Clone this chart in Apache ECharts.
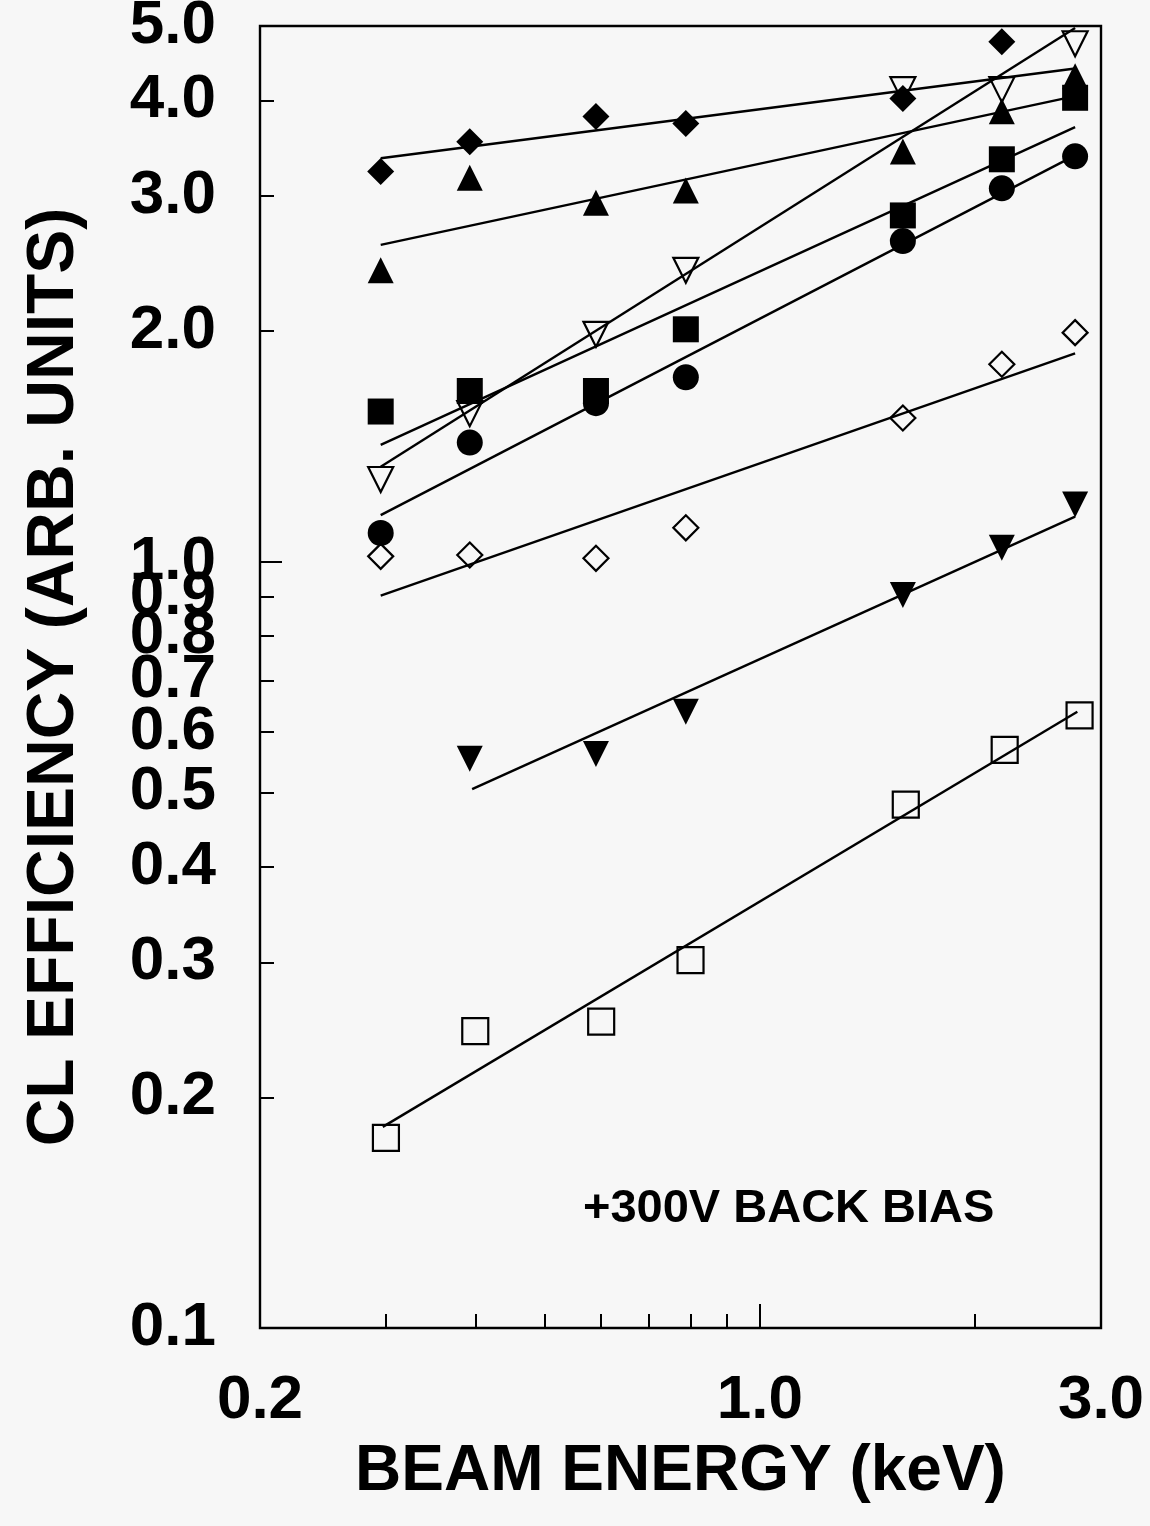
<!DOCTYPE html>
<html>
<head>
<meta charset="utf-8">
<script src="https://cdn.jsdelivr.net/npm/echarts@6/dist/echarts.min.js"></script>
<style>
html, body { margin: 0; padding: 0; background: #f7f7f7; }
#chart { width: 1150px; height: 1526px; }
</style>
</head>
<body>
<div id="chart"></div>
<script>
// beam energy (keV) of the measured points
var energy = [0.295, 0.393, 0.59, 0.788, 1.585, 2.18, 2.76];
var energyOpenSquare = [0.3, 0.4, 0.6, 0.8, 1.6, 2.2, 2.8];

// CL efficiency (arb. units), one list per marker type
var filledDiamond = [3.23, 3.53, 3.81, 3.73, 4.02, 4.77, null];
var filledTriangle = [2.40, 3.17, 2.94, 3.05, 3.43, 3.87, 4.30];
var openDownTriangle = [1.28, 1.56, 1.98, 2.40, 4.13, 4.13, 4.74];
var filledSquare = [1.57, 1.67, 1.67, 2.01, 2.83, 3.35, 4.03];
var filledCircle = [1.09, 1.43, 1.61, 1.74, 2.62, 3.07, 3.38];
var openDiamond = [1.016, 1.02, 1.01, 1.107, 1.54, 1.81, 1.99];
var filledDownTriangle = [null, 0.553, 0.561, 0.637, 0.905, 1.043, 1.187];
var openSquare = [0.177, 0.244, 0.251, 0.302, 0.482, 0.568, 0.630];

// fitted lines: end points [start, end]
var fitX = [0.295, 2.76];
var fitXDownTriangle = [0.396, 2.76];
var fitXOpenSquare = [0.297, 2.78];
var fitDiamond = [3.36, 4.40];
var fitTriangle = [2.59, 4.05];
var fitOpenDownTriangle = [1.33, 4.97];
var fitSquare = [1.42, 3.69];
var fitCircle = [1.15, 3.39];
var fitOpenDiamond = [0.903, 1.87];
var fitDownTriangle = [0.505, 1.145];
var fitOpenSquare = [0.183, 0.637];

// axis ticks and labels
var xTicks = [0.3, 0.4, 0.5, 0.6, 0.7, 0.8, 0.9, 2.0];
var xLabels = [0.2, 1.0, 3.0];
var yTicks = [0.1, 0.2, 0.3, 0.4, 0.5, 0.6, 0.7, 0.8, 0.9, 1.0, 2.0, 3.0, 4.0, 5.0];
var yLabels = [0.1, 0.2, 0.3, 0.4, 0.5, 0.6, 0.7, 0.8, 0.9, 1.0, 2.0, 3.0, 4.0, 5.0];

function pairs(xs, ys) {
  var out = [];
  for (var i = 0; i < xs.length; i++) {
    if (ys[i] != null) out.push([xs[i], ys[i]]);
  }
  return out;
}

var FONT = 'Liberation Sans';

function fitLine(xs, ys) {
  return {
    type: 'line',
    data: pairs(xs, ys),
    showSymbol: false,
    symbol: 'none',
    lineStyle: { color: '#000', width: 2.4 },
    z: 2
  };
}

function marks(xs, ys, symbol, filled, rotate, size) {
  return {
    type: 'scatter',
    data: pairs(xs, ys),
    symbol: symbol,
    symbolSize: size || 26,
    symbolRotate: rotate || 0,
    itemStyle: filled
      ? { color: '#000', opacity: 1 }
      : { color: 'rgba(0,0,0,0)', borderColor: '#000', borderWidth: 2.2, opacity: 1 },
    z: 3
  };
}

var chart = echarts.init(document.getElementById('chart'));
chart.setOption({
  backgroundColor: '#f7f7f7',
  animation: false,
  grid: {
    left: 260, right: 49, top: 26, bottom: 198,
    outerBoundsMode: 'none', containLabel: false,
    show: true, borderColor: '#000', borderWidth: 2.4, backgroundColor: 'transparent'
  },
  xAxis: [
    {
      type: 'log', logBase: 10, min: 0.2, max: 3.0, position: 'bottom',
      axisLine: { show: false },
      splitLine: { show: false },
      axisTick: { show: true, inside: true, length: 14, customValues: xTicks,
                  lineStyle: { color: '#000', width: 2 } },
      axisLabel: { customValues: xLabels, margin: 42, color: '#000',
                   fontFamily: FONT, fontWeight: 'bold', fontSize: 62,
                   formatter: function (v) { return Number(v).toFixed(1); } },
      name: 'BEAM ENERGY (keV)', nameLocation: 'middle', nameGap: 112,
      nameTextStyle: { color: '#000', fontFamily: FONT, fontWeight: 'bold', fontSize: 64 }
    },
    {
      type: 'log', logBase: 10, min: 0.2, max: 3.0, position: 'bottom',
      axisLine: { show: false }, splitLine: { show: false },
      axisTick: { show: true, inside: true, length: 24, customValues: [1.0],
                  lineStyle: { color: '#000', width: 2 } },
      axisLabel: { show: false }
    }
  ],
  yAxis: [
    {
      type: 'log', logBase: 10, min: 0.1, max: 5.0,
      axisLine: { show: false },
      splitLine: { show: false },
      axisTick: { show: true, inside: true, length: 14, customValues: yTicks,
                  lineStyle: { color: '#000', width: 2 } },
      axisLabel: { customValues: yLabels, margin: 44, color: '#000',
                   fontFamily: FONT, fontWeight: 'bold', fontSize: 62,
                   formatter: function (v) { return Number(v).toFixed(1); } },
      name: 'CL EFFICIENCY (ARB. UNITS)', nameLocation: 'middle', nameGap: 172,
      nameRotate: 90,
      nameTextStyle: { color: '#000', fontFamily: FONT, fontWeight: 'bold', fontSize: 66 }
    },
    {
      type: 'log', logBase: 10, min: 0.1, max: 5.0, position: 'left',
      axisLine: { show: false }, splitLine: { show: false },
      axisTick: { show: true, inside: true, length: 22, customValues: [1.0],
                  lineStyle: { color: '#000', width: 2 } },
      axisLabel: { show: false }
    }
  ],
  graphic: [
    {
      type: 'text', left: 583, top: 1186,
      style: { text: '+300V BACK BIAS', fill: '#000', fontFamily: FONT,
               fontWeight: 'bold', fontSize: 47 }
    }
  ],
  series: [
    fitLine(fitX, fitDiamond),
    fitLine(fitX, fitTriangle),
    fitLine(fitX, fitOpenDownTriangle),
    fitLine(fitX, fitSquare),
    fitLine(fitX, fitCircle),
    fitLine(fitX, fitOpenDiamond),
    fitLine(fitXDownTriangle, fitDownTriangle),
    fitLine(fitXOpenSquare, fitOpenSquare),
    marks(energy, filledDiamond, 'diamond', true, 0, 27),
    marks(energy, filledTriangle, 'triangle', true),
    marks(energy, openDownTriangle, 'triangle', false, 180, 25),
    marks(energy, filledSquare, 'rect', true),
    marks(energy, filledCircle, 'circle', true),
    marks(energy, openDiamond, 'diamond', false, 0, 25),
    marks(energy, filledDownTriangle, 'triangle', true, 180),
    marks(energyOpenSquare, openSquare, 'rect', false)
  ]
});
</script>
</body>
</html>
